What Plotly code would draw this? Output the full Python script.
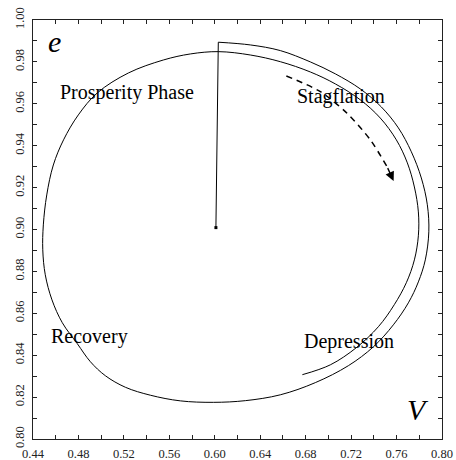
import plotly.graph_objects as go

# Trajectory in the (V, e) plane: start at the fixed point, jump up, then spiral clockwise
start_V = [0.601, 0.6031]
start_e = [0.9009, 0.9894]

spiral_V = [0.6031, 0.6313, 0.6577, 0.6841, 0.7061, 0.7281, 0.7466, 0.7616, 0.7730,
            0.7818, 0.7871, 0.7884, 0.7853, 0.7792, 0.7704, 0.7572, 0.7396, 0.7176,
            0.6885, 0.6577, 0.6269, 0.5987, 0.5697, 0.5433, 0.5213, 0.5037, 0.4905,
            0.4790, 0.4658, 0.4567, 0.4508, 0.4486, 0.4491, 0.4521, 0.4579, 0.4669,
            0.4799, 0.4966, 0.5239, 0.5547, 0.5785, 0.6031,
            0.6313, 0.6577, 0.6841, 0.7061, 0.7281, 0.7457, 0.7598, 0.7695, 0.7757,
            0.7792, 0.7792, 0.7757, 0.7686, 0.7580, 0.7440, 0.7246, 0.7017, 0.6771]
spiral_e = [0.9894, 0.9881, 0.9854, 0.9800, 0.9743, 0.9671, 0.9585, 0.9485, 0.9371,
            0.9246, 0.9118, 0.8989, 0.8855, 0.8750, 0.8650, 0.8545, 0.8440, 0.8350,
            0.8269, 0.8211, 0.8183, 0.8175, 0.8182, 0.8209, 0.8247, 0.8302, 0.8369,
            0.8455, 0.8555, 0.8664, 0.8784, 0.8903, 0.9022, 0.9165, 0.9308, 0.9428,
            0.9547, 0.9652, 0.9747, 0.9809, 0.9838, 0.9849,
            0.9833, 0.9801, 0.9752, 0.9695, 0.9619, 0.9532, 0.9428, 0.9318, 0.9203,
            0.9084, 0.8970, 0.8855, 0.8746, 0.8641, 0.8536, 0.8436, 0.8354, 0.8307]

# Dashed direction arrow
arrow_V = [0.6630, 0.6929, 0.7164, 0.7369, 0.7516, 0.7574]
arrow_e = [0.9733, 0.9658, 0.9555, 0.9428, 0.9300, 0.9232]

phase_names = ["Prosperity Phase", "Stagflation", "Recovery", "Depression"]
phase_V = [0.5226, 0.7113, 0.4893, 0.7178]
phase_e = [0.9652, 0.9634, 0.8487, 0.8466]

x_ticks = [0.44, 0.48, 0.52, 0.56, 0.60, 0.64, 0.68, 0.72, 0.76, 0.80]
y_ticks = [0.80, 0.82, 0.84, 0.86, 0.88, 0.90, 0.92, 0.94, 0.96, 0.98, 1.00]

serif = "Liberation Serif, Times New Roman, serif"

fig = go.Figure()
fig.add_trace(go.Scatter(x=start_V, y=start_e, mode="lines",
                         line=dict(color="black", width=1), hoverinfo="skip"))
fig.add_trace(go.Scatter(x=start_V[:1], y=start_e[:1], mode="markers",
                         marker=dict(color="black", size=3, symbol="square"), hoverinfo="skip"))
fig.add_trace(go.Scatter(x=spiral_V, y=spiral_e, mode="lines",
                         line=dict(color="black", width=1, shape="spline", smoothing=1.0),
                         hoverinfo="skip"))
fig.add_trace(go.Scatter(x=arrow_V[:-1], y=arrow_e[:-1], mode="lines",
                         line=dict(color="black", width=1.5, dash="6px,5px",
                                   shape="spline", smoothing=0.8),
                         hoverinfo="skip"))

fig.add_annotation(x=arrow_V[-1], y=arrow_e[-1], ax=arrow_V[-2], ay=arrow_e[-2],
                   xref="x", yref="y", axref="x", ayref="y", text="",
                   showarrow=True, arrowhead=2, arrowsize=1.3, arrowwidth=1.4,
                   arrowcolor="black", standoff=0, startstandoff=0)

for name, xv, yv in zip(phase_names, phase_V, phase_e):
    fig.add_annotation(x=xv, y=yv, text=name, showarrow=False,
                       font=dict(family=serif, size=20, color="black"))

fig.add_annotation(x=0.4588, y=0.9898, text="<i>e</i>", showarrow=False,
                   font=dict(family=serif, size=30, color="black"))
fig.add_annotation(x=0.7787, y=0.8140, text="<i>V</i>", showarrow=False,
                   font=dict(family=serif, size=30, color="black"))

axis_common = dict(showline=True, linecolor="#222", linewidth=1, mirror="allticks",
                   ticks="inside", ticklen=4, tickcolor="#222", tickwidth=1,
                   showgrid=False, zeroline=False, automargin=False,
                   tickfont=dict(family=serif, size=12.5, color="#222"))

fig.update_xaxes(range=[0.44, 0.80], tickvals=x_ticks,
                 ticktext=[f"{v:.2f}" for v in x_ticks], ticklabelstandoff=3,
                 minor=dict(dtick=0.02, tick0=0.44, ticks="inside", ticklen=4,
                            tickcolor="#222"),
                 **axis_common)
fig.update_yaxes(range=[0.80, 1.00], tickvals=y_ticks,
                 ticktext=[f"{v:.2f}" for v in y_ticks], tickangle=-90,
                 ticklabelstandoff=3,
                 minor=dict(dtick=0.01, tick0=0.80, ticks="inside", ticklen=4,
                            tickcolor="#222"),
                 **axis_common)

fig.update_layout(width=456, height=460, showlegend=False,
                  margin=dict(l=33, r=14, t=20, b=21),
                  paper_bgcolor="white", plot_bgcolor="white")

fig.write_html("out.html")
